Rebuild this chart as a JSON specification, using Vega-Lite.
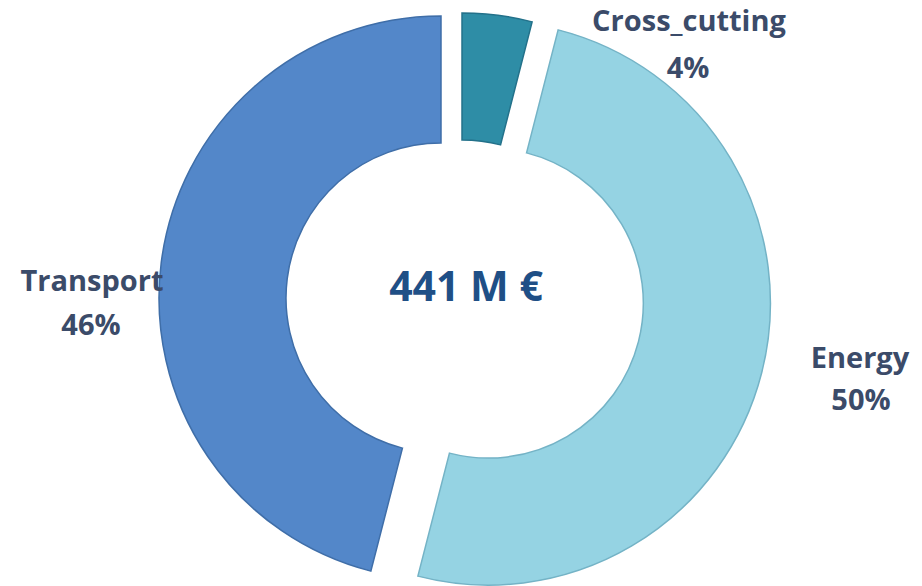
{
  "$schema": "https://vega.github.io/schema/vega-lite/v6.json",
  "width": 922,
  "height": 586,
  "autosize": {"type": "fit", "contains": "padding"},
  "padding": 0,
  "background": "#ffffff",
  "config": {"view": {"stroke": null}},
  "data": {
    "values": [
      {"category": "Cross_cutting", "share": 0.04},
      {"category": "Energy", "share": 0.50},
      {"category": "Transport", "share": 0.46}
    ]
  },
  "transform": [
    {"stack": "share", "groupby": [], "sort": [{"field": "category", "order": "ascending"}], "as": ["s0", "s1"]}
  ],
  "encoding": {
    "theta": {"field": "s0", "type": "quantitative", "scale": {"domain": [0, 1]}},
    "theta2": {"field": "s1"},
    "color": {
      "field": "category",
      "type": "nominal",
      "scale": {"domain": ["Cross_cutting", "Energy", "Transport"], "range": ["#2E8DA6", "#95D3E3", "#5387C9"]},
      "legend": null
    }
  },
  "layer": [
    {
      "transform": [{"filter": "datum.category === 'Transport'"}],
      "mark": {"type": "arc", "radius": 282, "radius2": 155, "xOffset": -20, "yOffset": 7, "stroke": "#3F6EA8", "strokeWidth": 1.5}
    },
    {
      "transform": [{"filter": "datum.category === 'Energy'"}],
      "mark": {"type": "arc", "radius": 282, "radius2": 155, "xOffset": 27, "yOffset": 12, "stroke": "#74B3C6", "strokeWidth": 1.5}
    },
    {
      "transform": [{"filter": "datum.category === 'Cross_cutting'"}],
      "mark": {"type": "arc", "radius": 282, "radius2": 155, "xOffset": 1, "yOffset": 4, "stroke": "#23718A", "strokeWidth": 1.5}
    },
    {
      "transform": [{"filter": "datum.category === 'Cross_cutting'"}],
      "mark": {"type": "text", "font": "Open Sans", "fontWeight": "bold", "fontSize": 29, "color": "#3B4B69", "align": "center", "baseline": "alphabetic", "dx": 228, "dy": -260},
      "encoding": {"text": {"field": "category"}, "theta": null, "theta2": null, "color": null}
    },
    {
      "transform": [{"filter": "datum.category === 'Cross_cutting'"}],
      "mark": {"type": "text", "font": "Open Sans", "fontWeight": "bold", "fontSize": 29, "color": "#3B4B69", "align": "center", "baseline": "alphabetic", "dx": 227, "dy": -213},
      "encoding": {"text": {"field": "share", "type": "quantitative", "format": ".0%"}, "theta": null, "theta2": null, "color": null}
    },
    {
      "transform": [{"filter": "datum.category === 'Transport'"}],
      "mark": {"type": "text", "font": "Open Sans", "fontWeight": "bold", "fontSize": 29, "color": "#3B4B69", "align": "center", "baseline": "alphabetic", "dx": -369, "dy": 0},
      "encoding": {"text": {"field": "category"}, "theta": null, "theta2": null, "color": null}
    },
    {
      "transform": [{"filter": "datum.category === 'Transport'"}],
      "mark": {"type": "text", "font": "Open Sans", "fontWeight": "bold", "fontSize": 29, "color": "#3B4B69", "align": "center", "baseline": "alphabetic", "dx": -370, "dy": 44},
      "encoding": {"text": {"field": "share", "type": "quantitative", "format": ".0%"}, "theta": null, "theta2": null, "color": null}
    },
    {
      "transform": [{"filter": "datum.category === 'Energy'"}],
      "mark": {"type": "text", "font": "Open Sans", "fontWeight": "bold", "fontSize": 29, "color": "#3B4B69", "align": "center", "baseline": "alphabetic", "dx": 399, "dy": 77},
      "encoding": {"text": {"field": "category"}, "theta": null, "theta2": null, "color": null}
    },
    {
      "transform": [{"filter": "datum.category === 'Energy'"}],
      "mark": {"type": "text", "font": "Open Sans", "fontWeight": "bold", "fontSize": 29, "color": "#3B4B69", "align": "center", "baseline": "alphabetic", "dx": 400, "dy": 119},
      "encoding": {"text": {"field": "share", "type": "quantitative", "format": ".0%"}, "theta": null, "theta2": null, "color": null}
    },
    {
      "data": {"values": [{"total": "441 M €"}]},
      "transform": [],
      "mark": {"type": "text", "font": "Open Sans", "fontWeight": "bold", "fontSize": 41, "color": "#1F4F86", "align": "center", "baseline": "alphabetic", "dx": 5, "dy": 10},
      "encoding": {"text": {"field": "total"}, "theta": null, "theta2": null, "color": null}
    }
  ]
}
